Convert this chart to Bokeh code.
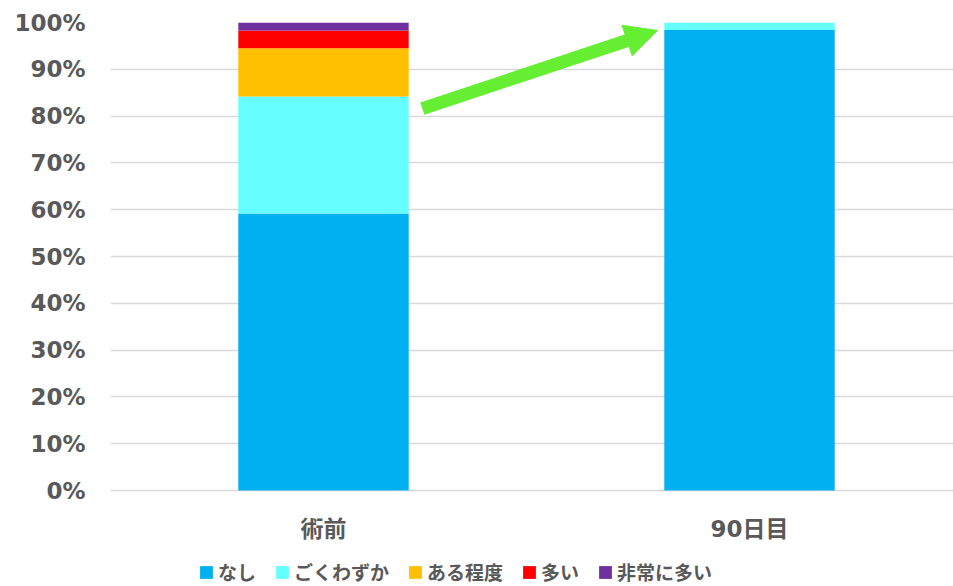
from bokeh.plotting import figure
from bokeh.models import (ColumnDataSource, Range1d, FixedTicker, PrintfTickFormatter,
                          Arrow, NormalHead)
from bokeh.core.properties import value
from bokeh.embed import file_html
from bokeh.resources import INLINE

# ---- data ----
categories = ["術前", "90日目"]
levels = ["なし", "ごくわずか", "ある程度", "多い", "非常に多い"]
colors = ["#00B0F0", "#66FFFF", "#FFC000", "#FF0000", "#7030A0"]
nashi = [59.2, 98.4]
gokuwazuka = [25.0, 1.6]
aruteido = [10.3, 0.0]
ooi = [3.8, 0.0]
hijouni = [1.7, 0.0]
y_ticks = list(range(0, 101, 10))

# arrow annotation (data coords)
arrow_start = (0.732, 81.6)
arrow_end = (1.284, 98.3)

positions = [i + 0.5 for i in range(len(categories))]
data = {"x": positions, "cat": categories, "base": [0] * len(categories)}
for name, vals in zip(levels, [nashi, gokuwazuka, aruteido, ooi, hijouni]):
    data[name] = vals
source = ColumnDataSource(data)

TXT = "#595959"
FONT_LATIN = "DejaVu Sans, Noto Sans CJK JP"

# frame reaches the bottom of the page; the area below 0% holds labels + legend
p = figure(
    frame_width=843, frame_height=564,
    min_border_left=110, min_border_right=0, min_border_top=22, min_border_bottom=0,
    x_range=Range1d(0, 843 / 426), y_range=Range1d(-20.5, 100),
    x_axis_location=None,
    output_backend="svg", toolbar_location=None,
)
p.outline_line_color = None
p.background_fill_color = "white"
p.border_fill_color = "white"

p.vbar_stack(levels, x="x", width=0.4, source=source, color=colors,
             line_color=None, legend_label=levels)

# category labels (under the bars)
p.text(x="x", y="base", text="cat", source=source, y_offset=38,
       text_align="center", text_baseline="middle",
       text_font=value(FONT_LATIN), text_font_style="bold",
       text_font_size="23px", text_color=TXT)

# y axis
p.yaxis.ticker = FixedTicker(ticks=y_ticks)
p.yaxis.formatter = PrintfTickFormatter(format="%d%%")
ax = p.yaxis[0]
ax.axis_line_color = None
ax.major_tick_line_color = None
ax.minor_tick_line_color = None
ax.major_tick_out = 0
ax.major_tick_in = 0
ax.major_label_text_color = TXT
ax.major_label_text_font = FONT_LATIN
ax.major_label_text_font_style = "bold"
ax.major_label_text_font_size = "23px"
ax.major_label_standoff = 25

p.xgrid.visible = False
p.ygrid.grid_line_color = "#D9D9D9"
p.ygrid.grid_line_width = 1.5

# arrow
green = "#66EE33"
p.add_layout(Arrow(end=NormalHead(size=32, fill_color=green, line_color=green),
                   x_start=arrow_start[0], y_start=arrow_start[1],
                   x_end=arrow_end[0], y_end=arrow_end[1],
                   line_color=green, line_width=13))

# legend
lg = p.legend[0]
lg.orientation = "horizontal"
lg.location = (88, 1)
lg.border_line_color = None
lg.background_fill_alpha = 0
lg.padding = 0
lg.margin = 0
lg.spacing = 18
lg.glyph_width = 16
lg.glyph_height = 16
lg.label_standoff = 4
lg.label_text_font = "Noto Sans CJK JP"
lg.label_text_font_style = "bold"
lg.label_text_font_size = "19px"
lg.label_text_color = TXT

open("out.html", "w").write(file_html(p, INLINE))
